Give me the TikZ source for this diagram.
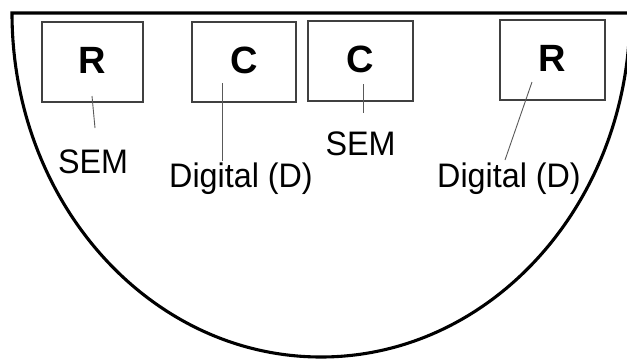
\documentclass[tikz,border=0pt]{standalone}
\usepackage{fontspec}
\setmainfont{Liberation Sans}
\newfontfamily\labelfont[FakeStretch=0.95]{Liberation Sans}
\usetikzlibrary{calc}

\tikzset{
  outline/.style={line width=3.1pt, black},
  unitbox/.style={draw=black!75, line width=1.4pt, rectangle, inner sep=0pt,
    minimum height=80pt, text depth=4pt,
    font=\fontsize{38}{41}\selectfont\bfseries},
  tag/.style={inner sep=0pt, anchor=base, font=\labelfont\fontsize{34}{38}\selectfont},
  leader/.style={draw=black!65, line width=0.9pt}
}

\begin{document}
\begin{tikzpicture}[x=1pt, y=-1pt]
  \useasboundingbox (0,0) rectangle (627,362);
  \clip (0,0) rectangle (627,362);

  % half-ellipse outline with its flat top edge (y axis points down)
  \draw[outline, line join=miter] (630,13) -- (12,13)
    arc[start angle=180, end angle=0, x radius=309, y radius=344];

  % the four units
  \node[unitbox, minimum width=101pt] (r1) at (92.5,62) {R};
  \node[unitbox, minimum width=104pt] (c1) at (244,62) {C};
  \node[unitbox, minimum width=105pt] (c2) at (360.5,61) {C};
  \node[unitbox, minimum width=105pt] (r2) at (552.5,60) {R};

  % their labels
  \node[tag] (sem1) at (93,173) {SEM};
  \node[tag] (dig1) at (241,187) {Digital (D)};
  \node[tag] (sem2) at (360.5,155) {SEM};
  \node[tag] (dig2) at (509,187) {Digital (D)};

  % leader end points
  \coordinate (a1) at (92,96);   \coordinate (b1) at (95,128);
  \coordinate (a2) at (222,83);  \coordinate (b2) at (222,161);
  \coordinate (a3) at (363,84);  \coordinate (b3) at (363,113);
  \coordinate (a4) at (532,82);  \coordinate (b4) at (505,160);

  \draw[leader] (a1) -- (b1);
  \draw[leader] (a2) -- (b2);
  \draw[leader] (a3) -- (b3);
  \draw[leader] (a4) -- (b4);
\end{tikzpicture}
\end{document}
